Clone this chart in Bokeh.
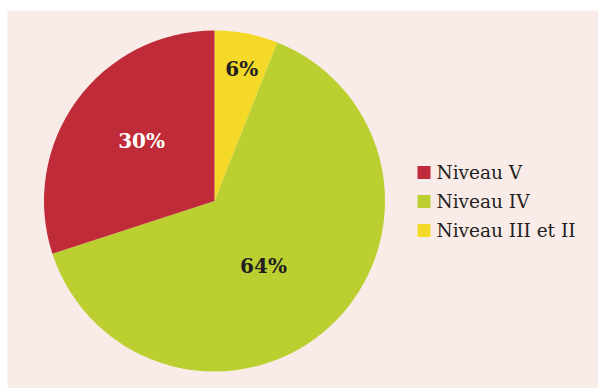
import math
from bokeh.plotting import figure
from bokeh.models import Range1d, ColumnDataSource
from bokeh.core.properties import value
from bokeh.embed import file_html
from bokeh.resources import INLINE

# Data (clockwise from 12 o'clock)
categories = ["Niveau III et II", "Niveau IV", "Niveau V"]
values = [6, 64, 30]
colors = ["#f4d928", "#bbd030", "#bf2b38"]
label_colors = ["#231f20", "#231f20", "#ffffff"]
label_radius = [0.79, 0.475, 0.555]   # fraction of pie radius
label_shift_deg = [0.9, 6.0, 3.6]     # clockwise shift of label from slice middle
legend_order = ["Niveau V", "Niveau IV", "Niveau III et II"]

W, H = 598, 388
p = figure(width=W, height=H, output_backend="svg", toolbar_location=None,
           x_range=Range1d(0, W), y_range=Range1d(0, H), min_border=0)
p.axis.visible = False
p.grid.visible = False
p.outline_line_color = None
p.background_fill_color = "#ffffff"
p.border_fill_color = "#ffffff"

# panel
p.quad(left=7, right=W, bottom=0, top=H - 10, fill_color="#f9ebe7", line_color=None)

cx, cy, R = 214, H - 200.5, 170.5
total = sum(values)
starts, ends, lx, ly = [], [], [], []
cum = 0.0
for v, rf, sh in zip(values, label_radius, label_shift_deg):
    a0 = math.pi / 2 - cum / total * 2 * math.pi
    cum += v
    a1 = math.pi / 2 - cum / total * 2 * math.pi
    starts.append(a0)
    ends.append(a1)
    mid = (a0 + a1) / 2 - math.radians(sh)
    lx.append(cx + rf * R * math.cos(mid))
    ly.append(cy + rf * R * math.sin(mid))

src = ColumnDataSource(dict(start=starts, end=ends, color=colors,
                            lx=lx, ly=ly, lab=[f"{v}%" for v in values],
                            lc=label_colors))
p.wedge(x=cx, y=cy, radius=R, start_angle="start", end_angle="end",
        direction="clock", fill_color="color", line_color=None, source=src)
p.text(x="lx", y="ly", text="lab", text_color="lc", source=src,
       text_align="center", text_baseline="middle",
       text_font=value("DejaVu Serif"), text_font_style="bold",
       text_font_size="20px")

# legend
cmap = dict(zip(categories, colors))
leg_y = [H - 172, H - 201, H - 230]
p.rect(x=[423.5] * 3, y=leg_y, width=13, height=13,
       fill_color=[cmap[c] for c in legend_order], line_color=None)
p.text(x=[436] * 3, y=leg_y, text=legend_order, text_color="#231f20",
       text_align="left", text_baseline="middle",
       text_font=value("DejaVu Serif"), text_font_size="18.5px")

open("out.html", "w").write(file_html(p, INLINE))
